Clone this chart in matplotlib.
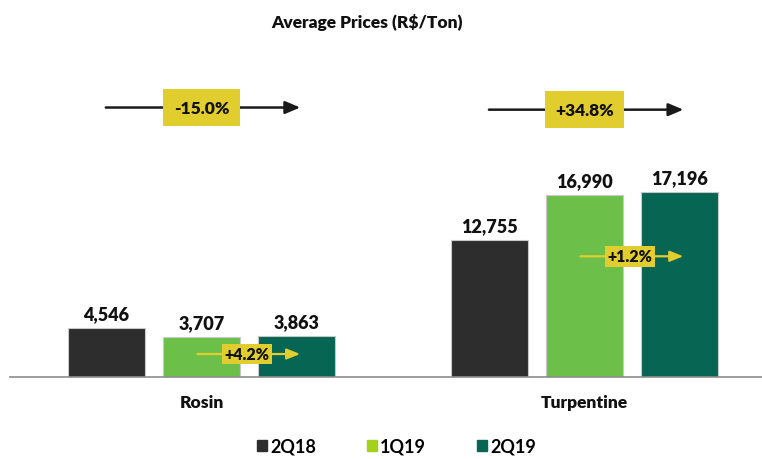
import matplotlib
matplotlib.use('Agg')
import matplotlib.pyplot as plt
from matplotlib.patches import Patch

plt.rcParams['font.family'] = ['Lato', 'DejaVu Sans']
plt.rcParams['font.weight'] = 'bold'

categories = ['Rosin', 'Turpentine']
periods = ['2Q18', '1Q19', '2Q19']
prices = {
    '2Q18': [4546, 12755],
    '1Q19': [3707, 16990],
    '2Q19': [3863, 17196],
}
yoy = ['-15.0%', '+34.8%']
qoq = ['+4.2%', '+1.2%']

colors = {'2Q18': '#2d2d2d', '1Q19': '#6cc04a', '2Q19': '#066553'}
legend_colors = {'2Q18': '#2d2d2d', '1Q19': '#a3d11c', '2Q19': '#066553'}
W = 'heavy'

fig = plt.figure(figsize=(7.62, 4.6), dpi=100)
ax = fig.add_axes([0.013, 0.178, 0.987, 0.69])

width = 0.2
step = 0.248
x = list(range(len(categories)))
for i, p in enumerate(periods):
    xs = [c + (i - 1) * step for c in x]
    ax.bar(xs, prices[p], width=width, color=colors[p], edgecolor='#c8c8c8',
           linewidth=0.8, zorder=2)
    for xi, v in zip(xs, prices[p]):
        ax.text(xi, v + 550, f'{v:,}', ha='center', va='bottom',
                fontsize=13, fontweight=W, color='#111111')

ax.set_xlim(-0.5, 1.463)
ax.set_ylim(0, 29550)
for s in ['top', 'right', 'left']:
    ax.spines[s].set_visible(False)
ax.spines['bottom'].set_color('#8c8c8c')
ax.spines['bottom'].set_linewidth(1.2)
ax.set_yticks([])
ax.set_xticks(x)
ax.set_xticklabels(categories, fontsize=12.5, fontweight=W, color='#111111')
ax.tick_params(axis='x', length=0, pad=12)

# year-over-year arrows
yellow = '#e2cd2f'
for c, lab in zip(x, yoy):
    y = 25100 - c * 200
    ax.annotate('', xy=(c + 0.265, y), xytext=(c - 0.257, y),
                arrowprops=dict(arrowstyle='-|>,head_length=0.9,head_width=0.38',
                                color='#1a1a1a', lw=1.8), zorder=3)
    ax.text(c, y, lab, ha='center', va='center', fontsize=12.5,
            fontweight=W, color='#111111', zorder=4,
            bbox=dict(boxstyle='square,pad=0.6', fc=yellow, ec='none'))

# quarter-over-quarter arrows
qoq_y = [2150, 11250]
for c, lab, y in zip(x, qoq, qoq_y):
    ax.annotate('', xy=(c + 0.265, y), xytext=(c - 0.018, y),
                arrowprops=dict(arrowstyle='-|>,head_length=0.8,head_width=0.32',
                                color=yellow, lw=1.6), zorder=3)
    ax.text(c + 0.118, y, lab, ha='center', va='center', fontsize=11.5,
            fontweight=W, color='#111111', zorder=4,
            bbox=dict(boxstyle='square,pad=0.15', fc=yellow, ec='none'))

fig.text(0.482, 0.952, 'Average Prices (R$/Ton)', ha='center', va='center',
         fontsize=12.5, fontweight=W, color='#111111')

handles = [Patch(color=legend_colors[p], label=p) for p in periods]
fig.legend(handles=handles, loc='center', bbox_to_anchor=(0.52, 0.028),
           ncol=3, frameon=False, handlelength=0.6,
           handleheight=0.6, handletextpad=0.15, columnspacing=2.8,
           prop={'weight': 'bold', 'size': 13})

fig.savefig('out.png', dpi=100)
